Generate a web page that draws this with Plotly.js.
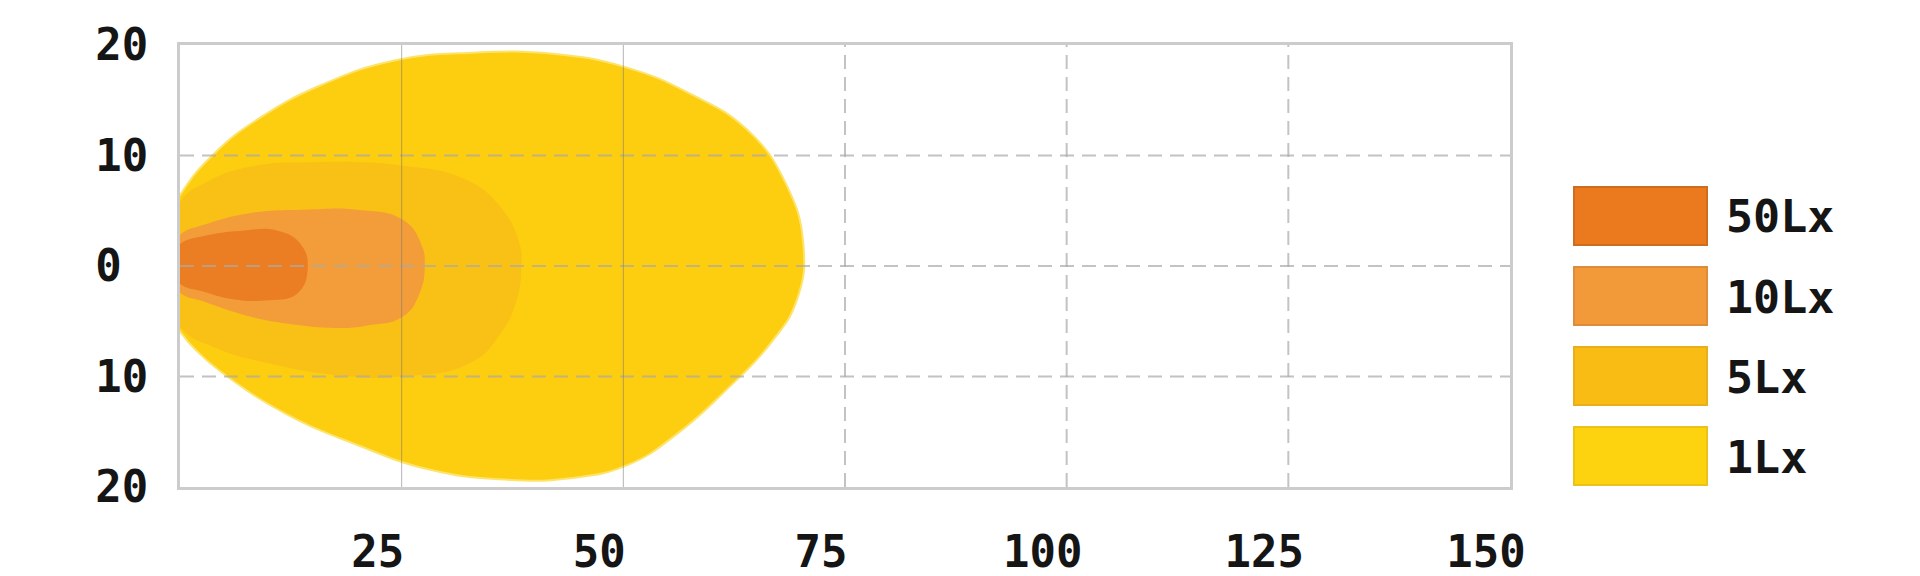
<!DOCTYPE html>
<html>
<head>
<meta charset="utf-8">
<script src="https://cdn.plot.ly/plotly-3.0.1.min.js"></script>
<style>
  html, body { margin: 0; padding: 0; background: #fff; }
  #chart { width: 1920px; height: 576px; }
</style>
</head>
<body>
<div id="chart"></div>
<script>
// isolux levels, brightest first
var levels = ['50Lx', '10Lx', '5Lx', '1Lx']

// contour outlines: distance ahead (m) and lateral offset (m)
var x50 = [-1.5, 0, 2.6, 7, 11, 13.6, 14.4, 13.2, 10, 6, 2.6, 0, -1.5]
var y50 = [0.3, 2.0, 2.7, 3.2, 3.2, 2.0, -0.3, -2.5, -3.1, -3.0, -2.3, -1.6, 0.3]

var x10 = [-2, 0, 2.6, 8, 14, 20, 25.1, 27.2, 27.6, 27, 25.1, 21, 17.7, 12, 8, 2.6, 0, -2]
var y10 = [0.3, 2.8, 3.7, 4.8, 5.1, 5.1, 4.2, 2.0, 0, -2.5, -4.6, -5.4, -5.6, -5.2, -4.6, -3.2, -2.4, 0.3]

var x5 = [-3, 0, 3, 8, 15, 25, 32, 36, 38.3, 38.5, 38, 36, 32.7, 25, 18, 10, 4, 0, -3]
var y5 = [0, 5.8, 7.6, 9.0, 9.4, 9.1, 7.9, 5.5, 2.0, 0, -3, -6.3, -8.8, -10.0, -9.9, -8.8, -7.4, -5.5, 0]

var x1 = [-4, 0, 3.9, 9, 16, 24.2, 33, 42, 50.2, 57.5, 64, 68.3, 70.3, 69.6, 66.6, 61.5, 56.2, 50.5, 44, 36, 28, 20, 12, 5.5, 2.3, 0, -4]
var y1 = [0, 6.4, 10.2, 13.4, 16.4, 18.6, 19.3, 19.2, 18.0, 15.6, 12.3, 7.5, 2.0, -3.0, -7.0, -11.3, -15.1, -18.0, -19.2, -19.3, -18.4, -16.2, -13.4, -10.1, -8.0, -5.9, 0]

var xTicks = [25, 50, 75, 100, 125, 150]
var yTicks = [20, 10, 0, -10, -20]
var yTickText = ['20', '10', '0\u00a0', '10', '20']

var plotColours = { '50Lx': '#EB7D22', '10Lx': '#F39C3A', '5Lx': '#F9C116', '1Lx': '#FDCD10' }
var keyColours = { '50Lx': '#EB7A1F', '10Lx': '#F29A3A', '5Lx': '#F9BC14', '1Lx': '#FDD20E' }
var keyBorders = { '50Lx': '#D06C1E', '10Lx': '#DC8C3A', '5Lx': '#E8AE1C', '1Lx': '#EAC21A' }

var contours = { '50Lx': [x50, y50], '10Lx': [x10, y10], '5Lx': [x5, y5], '1Lx': [x1, y1] }

// plot area in pixels
var L = 180, R = 1510, T = 45, B = 487
function px(p) { return (p - L) / (R - L) }
function py(p) { return (B - p) / (B - T) }

function contourTrace(level) {
  var outer = level == '1Lx'
  return {
    x: contours[level][0],
    y: contours[level][1],
    name: level,
    type: 'scatter',
    mode: 'lines',
    fill: 'toself',
    fillcolor: plotColours[level],
    line: {
      shape: 'spline',
      smoothing: 1.3,
      width: outer ? 2 : 0,
      color: outer ? '#FDE36A' : plotColours[level]
    },
    hoverinfo: 'skip',
    showlegend: false
  }
}

var data = []
for (var i = levels.length - 1; i >= 0; i--) {
  data.push(contourTrace(levels[i]))
}

var shapes = []
var annotations = []

// grid drawn above the light pattern
yTicks.forEach(function (v) {
  if (v == 20 || v == -20) return
  shapes.push({
    type: 'line', xref: 'x', yref: 'y', x0: 0, x1: 150, y0: v, y1: v,
    layer: 'above', line: { color: 'rgba(170,170,170,0.7)', width: 2, dash: '14px,8px' }
  })
})
xTicks.forEach(function (v) {
  if (v == 150) return
  var solid = v <= 50
  shapes.push({
    type: 'line', xref: 'x', yref: 'y', x0: v, x1: v, y0: -20, y1: 20,
    layer: 'above',
    line: solid ? { color: 'rgba(120,120,120,0.55)', width: 1 }
                : { color: 'rgba(170,170,170,0.7)', width: 2, dash: '14px,8px' }
  })
})

// key on the right
levels.forEach(function (level, i) {
  var top = 187 + i * 80
  shapes.push({
    type: 'rect', xref: 'paper', yref: 'paper',
    x0: px(1574), x1: px(1707), y0: py(top + 58), y1: py(top),
    fillcolor: keyColours[level],
    line: { color: keyBorders[level], width: 2 }
  })
  annotations.push({
    xref: 'paper', yref: 'paper', x: px(1724), y: py(top + 30),
    xanchor: 'left', yanchor: 'middle', showarrow: false,
    text: level,
    font: { family: 'DejaVu Sans Mono', size: 45, color: '#151515', weight: 'bold' }
  })
})

var tickFont = { family: 'DejaVu Sans Mono', size: 44, color: '#151515', weight: 'bold' }

var layout = {
  width: 1920,
  height: 576,
  autosize: false,
  paper_bgcolor: '#ffffff',
  plot_bgcolor: '#ffffff',
  showlegend: false,
  margin: { l: L, r: 1920 - R, t: T, b: 576 - B },
  xaxis: {
    range: [0, 150],
    tickvals: xTicks,
    ticks: '',
    showgrid: false,
    zeroline: false,
    showline: true,
    mirror: true,
    linecolor: '#CCCCCC',
    linewidth: 3,
    tickfont: tickFont,
    ticklabelstandoff: 24,
    ticklabelshift: -24,
    fixedrange: true
  },
  yaxis: {
    range: [-20, 20],
    tickvals: yTicks,
    ticktext: yTickText,
    ticks: '',
    showgrid: false,
    zeroline: false,
    showline: true,
    mirror: true,
    linecolor: '#CCCCCC',
    linewidth: 3,
    tickfont: tickFont,
    ticklabelstandoff: 20,
    fixedrange: true
  },
  shapes: shapes,
  annotations: annotations
}

Plotly.newPlot('chart', data, layout, { displayModeBar: false, staticPlot: true })
</script>
</body>
</html>
